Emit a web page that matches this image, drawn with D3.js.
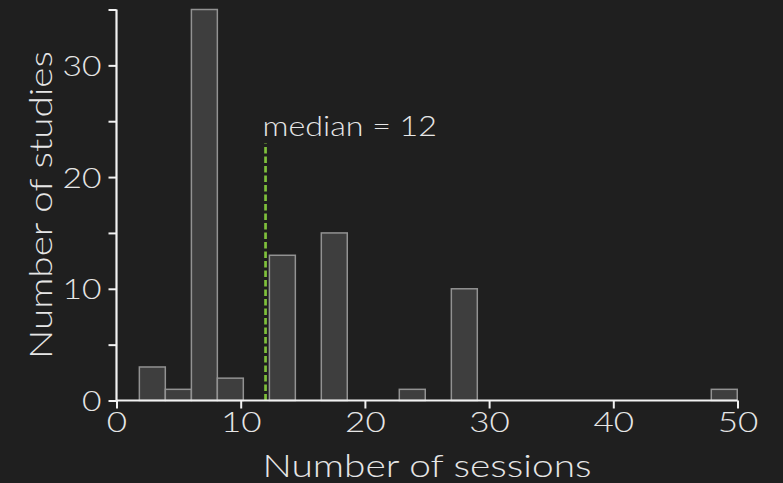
<!DOCTYPE html>
<html>
<head>
<meta charset="utf-8">
<script src="https://cdn.jsdelivr.net/npm/d3@7"></script>
<style>
  html, body { margin: 0; padding: 0; background: #1f1f1f; }
  svg { display: block; }
  text { font-family: "Lato", "Open Sans", sans-serif; font-weight: 300; fill: #e6e6e6; }
</style>
</head>
<body>
<svg id="chart" width="783" height="483"></svg>
<script>
// ---- data ----
const binStarts = [1.84, 3.93, 6.03, 8.12, 10.21, 12.31, 14.40, 16.49, 18.58, 20.68, 22.77, 24.86,
                   26.96, 29.05, 31.14, 33.24, 35.33, 37.42, 39.51, 41.61, 43.70, 45.79, 47.89];
const binEnds   = [3.93, 6.03, 8.12, 10.21, 12.31, 14.40, 16.49, 18.58, 20.68, 22.77, 24.86, 26.96,
                   29.05, 31.14, 33.24, 35.33, 37.42, 39.51, 41.61, 43.70, 45.79, 47.89, 49.98];
const counts    = [3, 1, 35, 2, 0, 13, 0, 15, 0, 0, 1, 0, 10, 0, 0, 0, 0, 0, 0, 0, 0, 0, 1];
const xTicks = [0, 10, 20, 30, 40, 50];
const yTicks = [0, 5, 10, 15, 20, 25, 30, 35];
const yLabels = [0, 10, 20, 30];
const medianValue = 12;
const medianTop = 23;
const xTitle = "Number of sessions";
const yTitle = "Number of studies";

const svg = d3.select("#chart");
svg.append("rect").attr("width", 783).attr("height", 483).attr("fill", "#1f1f1f");

const x = d3.scaleLinear().domain([0, 50]).range([116.5, 737.5]);
const y = d3.scaleLinear().domain([0, 35]).range([400.5, 9.5]);

const bins = binStarts.map((s, i) => ({ x0: s, x1: binEnds[i], n: counts[i] }));

// widen glyphs (reference uses a wide geometric face)
function widen(sel, factor) {
  sel.each(function () {
    const w = this.getComputedTextLength();
    d3.select(this).attr("textLength", w * factor).attr("lengthAdjust", "spacingAndGlyphs");
  });
}

// bars
svg.append("g").selectAll("rect")
  .data(bins.filter(d => d.n > 0))
  .join("rect")
  .attr("x", d => x(d.x0))
  .attr("y", d => y(d.n))
  .attr("width", d => x(d.x1) - x(d.x0))
  .attr("height", d => y(0) - y(d.n))
  .attr("fill", "#3e3e3e")
  .attr("stroke", "#929292")
  .attr("stroke-width", 1.5);

// median line
svg.append("line")
  .attr("x1", x(medianValue)).attr("x2", x(medianValue))
  .attr("y1", y(0)).attr("y2", y(medianTop))
  .attr("stroke", "#7fc03c").attr("stroke-width", 2.7)
  .attr("stroke-dasharray", "6.5,3");

const med = svg.append("text")
  .attr("x", x(medianValue) - 3).attr("y", 136)
  .style("font-size", "28px")
  .text("median = " + medianValue);
widen(med, 1.15);

// axes
const xAxis = d3.axisBottom(x).tickValues(xTicks).tickSize(8).tickPadding(4).tickFormat(d3.format("d"));
const gx = svg.append("g").attr("transform", `translate(0,${y(0)})`).call(xAxis);
const yAxis = d3.axisLeft(y).tickValues(yTicks).tickSize(8).tickPadding(7)
  .tickFormat(d => yLabels.includes(d) ? d : "");
const gy = svg.append("g").attr("transform", `translate(${x(0)},0)`).call(yAxis);

[gx, gy].forEach(g => {
  g.select(".domain").attr("stroke", "#f2f2f2").attr("stroke-width", 2.2);
  g.selectAll(".tick line").attr("stroke", "#f2f2f2").attr("stroke-width", 2);
  g.selectAll(".tick text").attr("fill", "#e6e6e6")
    .style("font-family", '"Lato", "Open Sans", sans-serif')
    .style("font-weight", 300).style("font-size", "28px");
});
gx.select(".domain").attr("d", `M${x(0)},0H${x(50)}`);
gy.select(".domain").attr("d", `M0,${y(0)}V${y(35)}`);
gy.selectAll(".tick text").attr("dy", "0.36em");
widen(gx.selectAll(".tick text"), 1.25);
widen(gy.selectAll(".tick text").filter(function () { return this.textContent !== ""; }), 1.2);

// axis titles
const xt = svg.append("text")
  .attr("x", (x(0) + x(50)) / 2).attr("y", 477)
  .attr("text-anchor", "middle")
  .style("font-size", "31px")
  .text(xTitle);
xt.attr("textLength", 329).attr("lengthAdjust", "spacingAndGlyphs");

const yt = svg.append("text")
  .attr("transform", `translate(52,${(y(0) + y(35)) / 2}) rotate(-90)`)
  .attr("text-anchor", "middle")
  .style("font-size", "31px")
  .text(yTitle);
yt.attr("textLength", 308).attr("lengthAdjust", "spacingAndGlyphs");
</script>
</body>
</html>
